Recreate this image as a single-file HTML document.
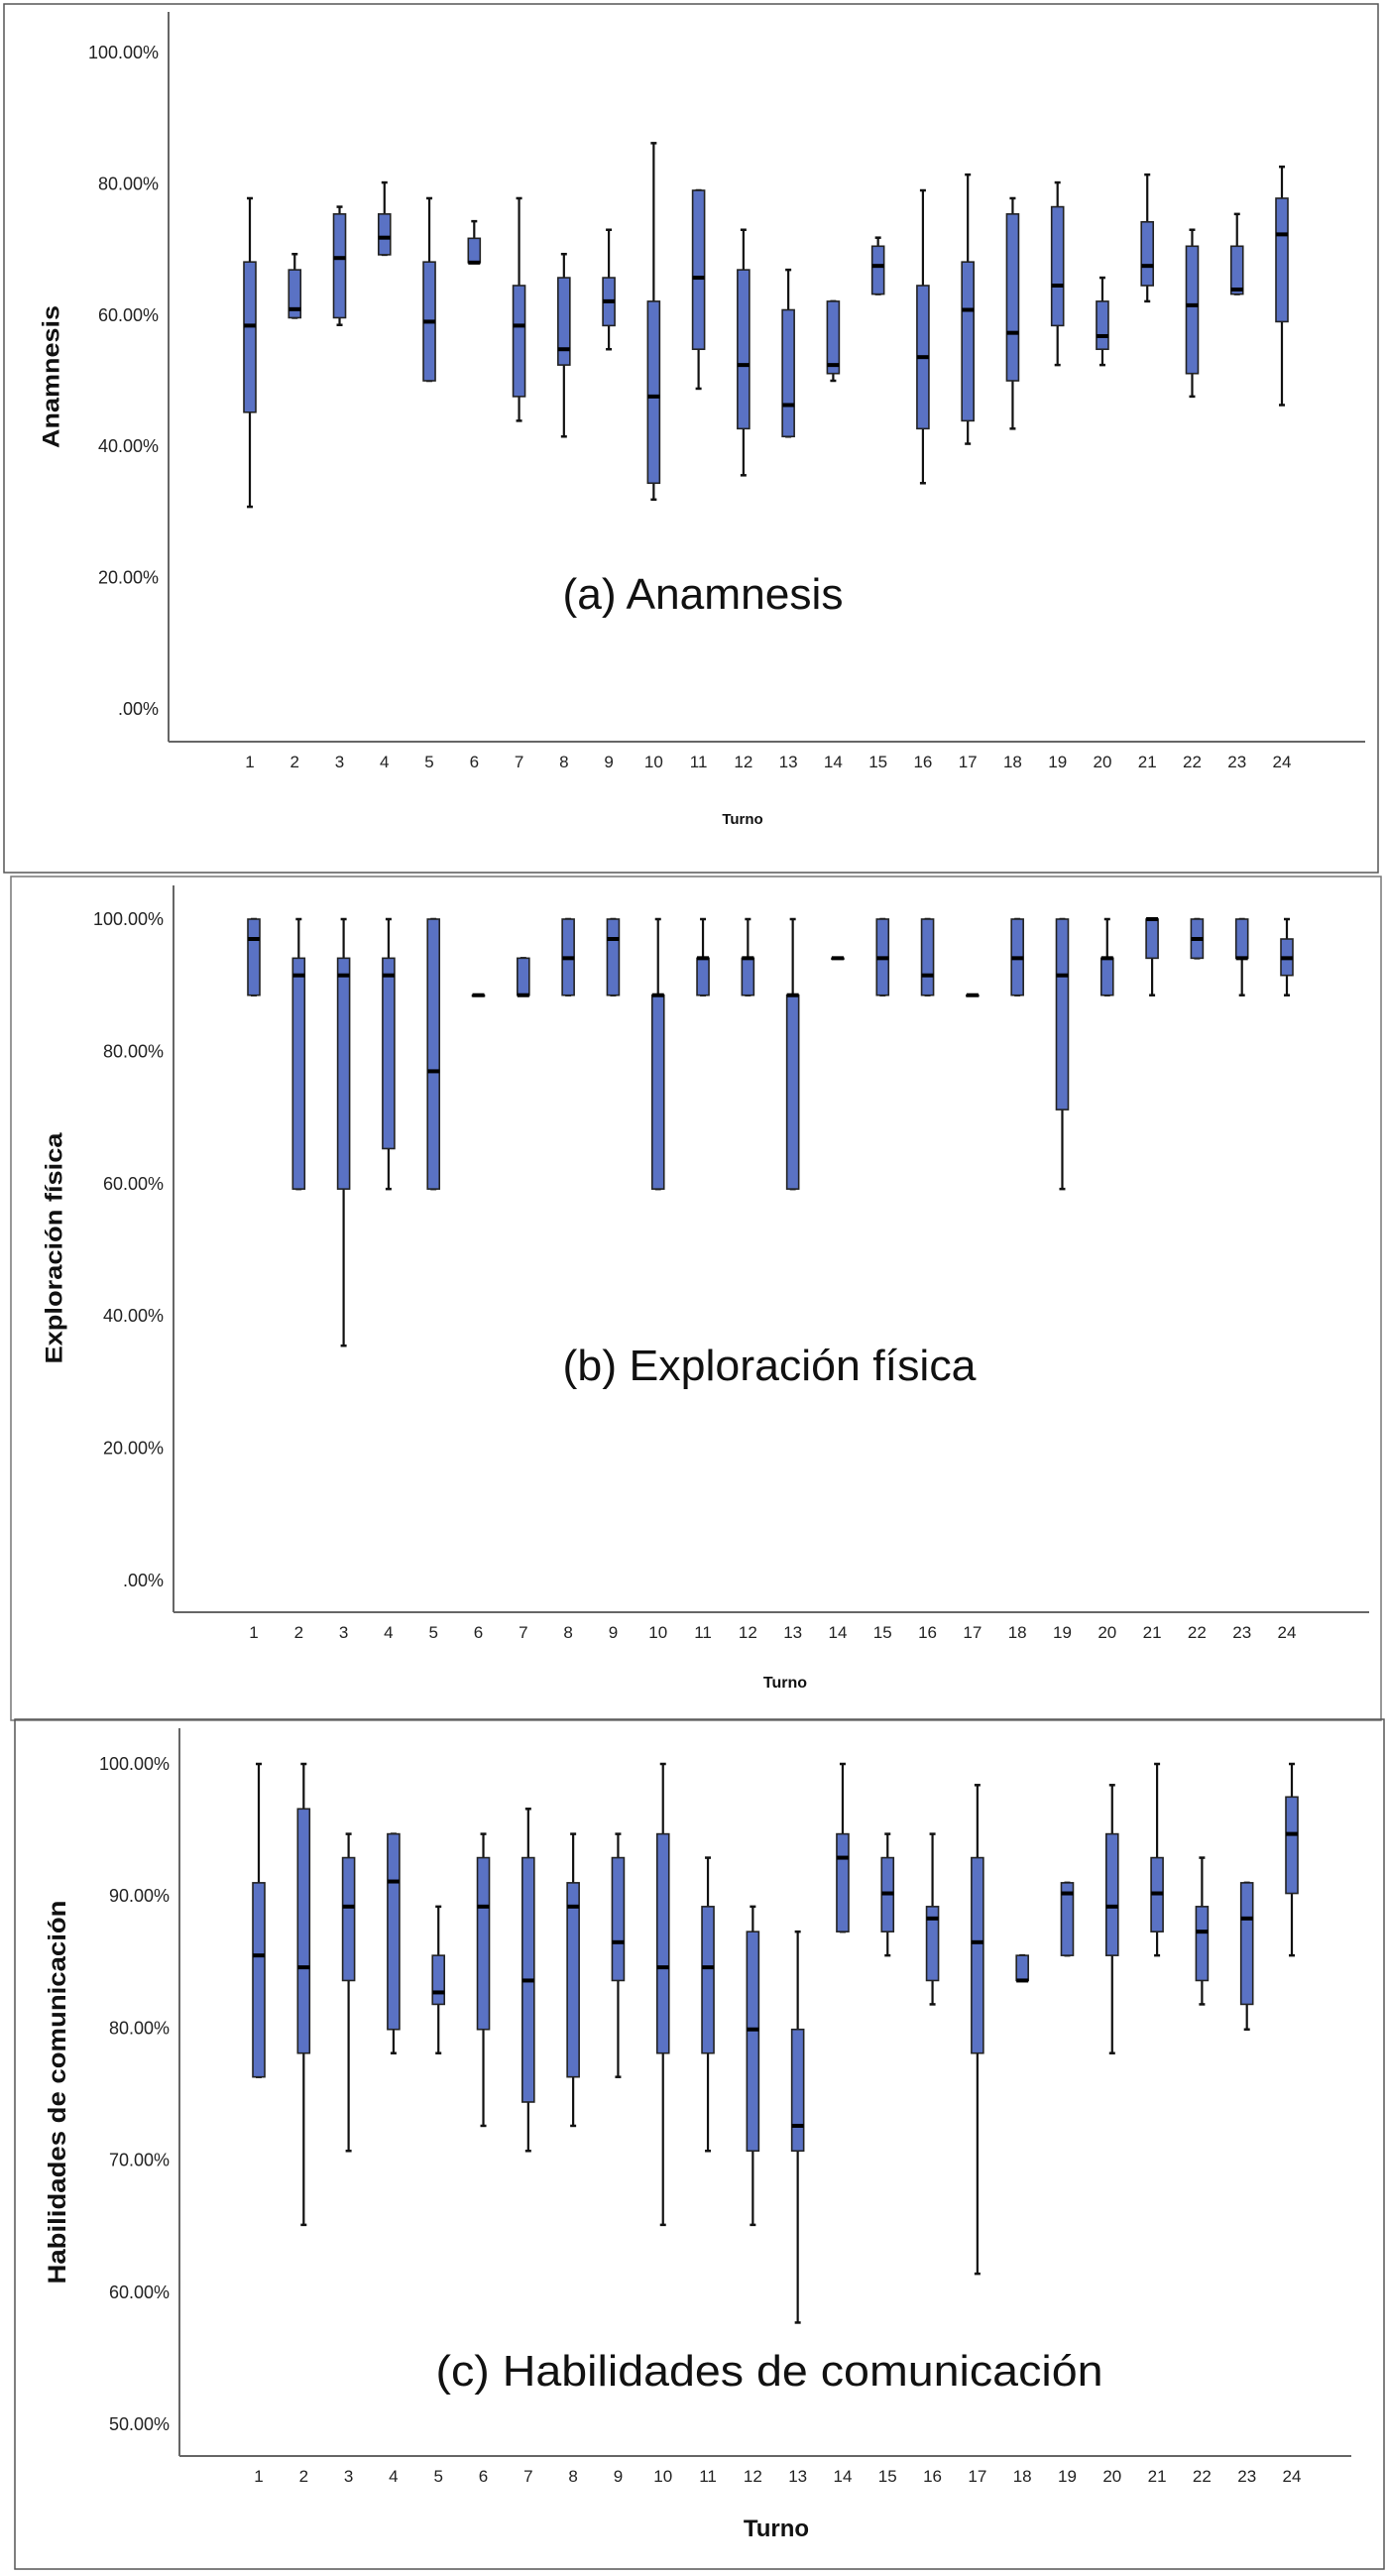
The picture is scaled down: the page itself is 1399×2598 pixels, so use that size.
<!DOCTYPE html>
<html><head><meta charset="utf-8"><style>
html,body{margin:0;padding:0;background:#fff;}
svg{display:block;font-family:"Liberation Sans",sans-serif;}
</style></head><body>
<svg id="chart" width="1399" height="2598" viewBox="0 0 1399 2598" xmlns="http://www.w3.org/2000/svg">
<rect x="4" y="4" width="1386" height="876" fill="none" stroke="#555" stroke-width="1.5"/>
<rect x="11" y="884" width="1382" height="851" fill="none" stroke="#777" stroke-width="1.5"/>
<rect x="15" y="1734" width="1381" height="857" fill="none" stroke="#555" stroke-width="1.5"/>
</svg>
<script>
const turnos=[1,2,3,4,5,6,7,8,9,10,11,12,13,14,15,16,17,18,19,20,21,22,23,24];
// Panel a: Anamnesis
const aMax=[77.8,69.3,76.5,80.2,77.8,74.3,77.8,69.3,73.0,86.2,79.0,73.0,66.9,62.1,71.8,79.0,81.4,77.8,80.2,65.7,81.4,73.0,75.4,82.6];
const aQ3=[68.1,66.9,75.4,75.4,68.1,71.7,64.5,65.7,65.7,62.1,79.0,66.9,60.8,62.1,70.5,64.5,68.1,75.4,76.5,62.1,74.2,70.5,70.5,77.8];
const aMed=[58.4,60.9,68.7,71.8,59.0,68.0,58.4,54.8,62.1,47.6,65.7,52.4,46.3,52.4,67.5,53.6,60.8,57.3,64.5,56.8,67.5,61.5,63.9,72.3];
const aQ1=[45.2,59.6,59.6,69.2,50.0,68.0,47.6,52.4,58.4,34.4,54.8,42.7,41.5,51.1,63.2,42.7,43.9,50.0,58.4,54.8,64.5,51.1,63.2,59.0];
const aMin=[30.8,59.6,58.5,69.2,50.0,68.0,43.9,41.5,54.8,31.9,48.8,35.6,41.5,50.0,63.2,34.4,40.4,42.7,52.4,52.4,62.1,47.6,63.2,46.3];
const aTicks=[0,20,40,60,80,100];
const aTickLabels=[".00%","20.00%","40.00%","60.00%","80.00%","100.00%"];
// Panel b: Exploración física
const bMax=[100,100,100,100,100,88.5,94.1,100,100,100,100,100,100,94.1,100,100,88.5,100,100,100,100,100,100,100];
const bQ3=[100,94.1,94.1,94.1,100,88.5,94.1,100,100,88.5,94.1,94.1,88.5,94.1,100,100,88.5,100,100,94.1,100,100,100,97];
const bMed=[97,91.5,91.5,91.5,77,88.5,88.5,94.1,97,88.5,94.1,94.1,88.5,94.1,94.1,91.5,88.5,94.1,91.5,94.1,100,97,94.1,94.1];
const bQ1=[88.5,59.2,59.2,65.3,59.2,88.5,88.5,88.5,88.5,59.2,88.5,88.5,59.2,94.1,88.5,88.5,88.5,88.5,71.2,88.5,94.1,94.1,94.1,91.5];
const bMin=[88.5,59.2,35.5,59.2,59.2,88.5,88.5,88.5,88.5,59.2,88.5,88.5,59.2,94.1,88.5,88.5,88.5,88.5,59.2,88.5,88.5,94.1,88.5,88.5];
const bTicks=[0,20,40,60,80,100];
const bTickLabels=[".00%","20.00%","40.00%","60.00%","80.00%","100.00%"];
// Panel c: Habilidades de comunicación
const cMax=[100,100,94.7,94.7,89.2,94.7,96.6,94.7,94.7,100,92.9,89.2,87.3,100,94.7,94.7,98.4,85.5,91.0,98.4,100,92.9,91.0,100];
const cQ3=[91.0,96.6,92.9,94.7,85.5,92.9,92.9,91.0,92.9,94.7,89.2,87.3,79.9,94.7,92.9,89.2,92.9,85.5,91.0,94.7,92.9,89.2,91.0,97.5];
const cMed=[85.5,84.6,89.2,91.1,82.7,89.2,83.6,89.2,86.5,84.6,84.6,79.9,72.6,92.9,90.2,88.3,86.5,83.6,90.2,89.2,90.2,87.3,88.3,94.7];
const cQ1=[76.3,78.1,83.6,79.9,81.8,79.9,74.4,76.3,83.6,78.1,78.1,70.7,70.7,87.3,87.3,83.6,78.1,83.6,85.5,85.5,87.3,83.6,81.8,90.2];
const cMin=[76.3,65.1,70.7,78.1,78.1,72.6,70.7,72.6,76.3,65.1,70.7,65.1,57.7,87.3,85.5,81.8,61.4,83.6,85.5,78.1,85.5,81.8,79.9,85.5];
const cTicks=[50,60,70,80,90,100];
const cTickLabels=["50.00%","60.00%","70.00%","80.00%","90.00%","100.00%"];

const NS="http://www.w3.org/2000/svg";
const svg=document.getElementById('chart');
function mk(tag,attrs,parent){const e=document.createElementNS(NS,tag);for(const k in attrs)e.setAttribute(k,attrs[k]);(parent||svg).appendChild(e);return e;}

const panels=[
 {id:'a',max:aMax,q3:aQ3,med:aMed,q1:aQ1,min:aMin,ticks:aTicks,labels:aTickLabels,
  axX:170,axTop:12,axBot:748,axRight:1377,vLo:0,vHi:100,yLo:715,yHi:53,x1:252,x24:1293,
  ytitle:'Anamnesis',ytX:52,ytY:380,ytSize:24,ytLen:144,
  title:'(a) Anamnesis',tX:709,tY:614,tLen:283,
  turnoY:831,turnoX:749,turnoSize:15},
 {id:'b',max:bMax,q3:bQ3,med:bMed,q1:bQ1,min:bMin,ticks:bTicks,labels:bTickLabels,
  axX:175,axTop:893,axBot:1626,axRight:1381,vLo:0,vHi:100,yLo:1594,yHi:927,x1:256,x24:1298,
  ytitle:'Exploración física',ytX:55,ytY:1259,ytSize:24,ytLen:233,
  title:'(b) Exploración física',tX:776,tY:1392,tLen:417,
  turnoY:1702,turnoX:792,turnoSize:16},
 {id:'c',max:cMax,q3:cQ3,med:cMed,q1:cQ1,min:cMin,ticks:cTicks,labels:cTickLabels,
  axX:181,axTop:1743,axBot:2477,axRight:1363,vLo:50,vHi:100,yLo:2445,yHi:1779,x1:261,x24:1303,
  ytitle:'Habilidades de comunicación',ytX:58,ytY:2110,ytSize:25,ytLen:387,
  title:'(c)  Habilidades de comunicación',tX:776,tY:2406,tLen:673,
  turnoY:2558,turnoX:783,turnoSize:24}
];

panels.forEach(p=>{
  const yS=v=>p.yLo+(v-p.vLo)/(p.vHi-p.vLo)*(p.yHi-p.yLo);
  const xS=i=>p.x1+(i)*(p.x24-p.x1)/(turnos.length-1);
  const g=mk('g',{});
  
  
  const ya=mk('line',{x1:p.axX,y1:p.axTop,x2:p.axX,y2:p.axBot,stroke:'#666','stroke-width':2},g);
  
  
  const xa=mk('line',{x1:p.axX,y1:p.axBot,x2:p.axRight,y2:p.axBot,stroke:'#666','stroke-width':2},g);
  
  
  p.ticks.forEach((t,i)=>{
    const tl=mk('text',{x:p.axX-10,y:yS(t)+6,'text-anchor':'end','font-size':18,fill:'#222'},g);
    tl.textContent=p.labels[i];
    
    
  });
  turnos.forEach((t,i)=>{
    const tl=mk('text',{x:xS(i),y:p.axBot+26,'text-anchor':'middle','font-size':17,fill:'#222'},g);
    tl.textContent=t;
    
    
    const x=xS(i),bw=12;
    const bg=mk('g',{},g);
    
    
    mk('line',{x1:x,y1:yS(p.max[i]),x2:x,y2:yS(p.min[i]),stroke:'#111','stroke-width':2.2},bg);
    mk('line',{x1:x-3,y1:yS(p.max[i]),x2:x+3,y2:yS(p.max[i]),stroke:'#111','stroke-width':2.5},bg);
    mk('line',{x1:x-3,y1:yS(p.min[i]),x2:x+3,y2:yS(p.min[i]),stroke:'#111','stroke-width':2.5},bg);
    const top=yS(p.q3[i]),bot=yS(p.q1[i]);
    mk('rect',{x:x-bw/2,y:top,width:bw,height:Math.max(bot-top,1),fill:'#5a72c4',stroke:'#222','stroke-width':1.6},bg);
    mk('line',{x1:x-bw/2,y1:yS(p.med[i]),x2:x+bw/2,y2:yS(p.med[i]),stroke:'#000','stroke-width':4},bg);
  });
  const yt=mk('text',{x:p.ytX,y:p.ytY,transform:`rotate(-90 ${p.ytX} ${p.ytY})`,'text-anchor':'middle','font-size':p.ytSize,'font-weight':'bold',fill:'#111',textLength:p.ytLen,lengthAdjust:'spacingAndGlyphs','dominant-baseline':'central'},g);
  yt.textContent=p.ytitle;
  
  
  const tt=mk('text',{x:p.tX,y:p.tY,'text-anchor':'middle','font-size':44,fill:'#111',textLength:p.tLen,lengthAdjust:'spacingAndGlyphs'},g);
  tt.textContent=p.title;
  
  
  const tu=mk('text',{x:p.turnoX,y:p.turnoY,'text-anchor':'middle','font-size':p.turnoSize,'font-weight':'bold',fill:'#111'},g);
  tu.textContent='Turno';
  
  
});
</script>
</body></html>
